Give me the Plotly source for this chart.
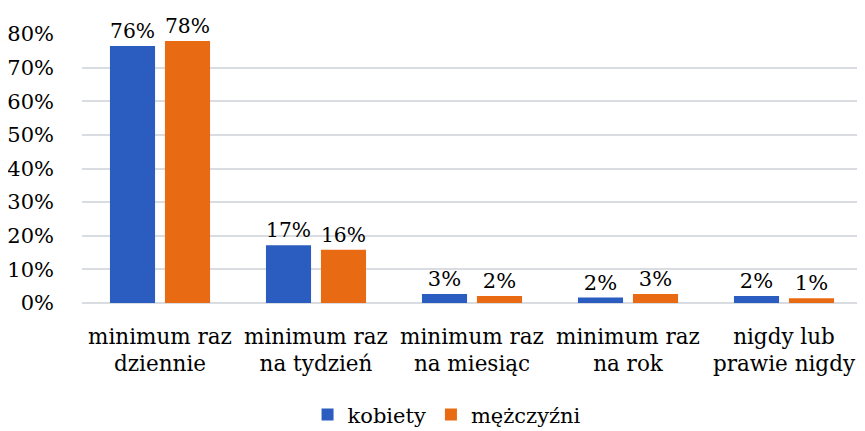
import plotly.graph_objects as go

categories = ["minimum raz<br>dziennie", "minimum raz<br>na tydzień", "minimum raz<br>na miesiąc",
              "minimum raz<br>na rok", "nigdy lub<br>prawie nigdy"]
kobiety = [76.4, 17.2, 2.7, 1.6, 2.1]
mezczyzni = [77.9, 15.8, 2.1, 2.7, 1.4]
y_ticks = [0, 10, 20, 30, 40, 50, 60, 70, 80]

FONT = "DejaVu Serif"
SIZE = 21

fig = go.Figure()
fig.add_trace(go.Bar(
    x=categories, y=kobiety, name="kobiety",
    marker=dict(color="#2A5DBF", line=dict(width=0)),
    text=[f"{round(v)}%" for v in kobiety], textposition="outside",
    textfont=dict(family=FONT, size=SIZE, color="#000"), cliponaxis=False,
))
fig.add_trace(go.Bar(
    x=categories, y=mezczyzni, name="mężczyźni",
    marker=dict(color="#E86A12", line=dict(width=0)),
    text=[f"{round(v)}%" for v in mezczyzni], textposition="outside",
    textfont=dict(family=FONT, size=SIZE, color="#000"), cliponaxis=False,
))

fig.update_layout(
    width=857, height=423,
    margin=dict(l=74, r=3, t=26, b=128, autoexpand=False),
    paper_bgcolor="white", plot_bgcolor="white",
    barmode="group", bargap=0.295, bargroupgap=0.18,
    font=dict(family=FONT, size=SIZE, color="#000"),
    showlegend=True,
    legend=dict(orientation="h", x=0.468, xanchor="center", y=-0.416, yanchor="middle",
                font=dict(family=FONT, size=SIZE), itemwidth=30, traceorder="normal"),
)
fig.update_yaxes(
    range=[0, 80], tickvals=y_ticks, ticktext=[f"{v}%" for v in y_ticks],
    showgrid=True, gridcolor="#D9DCE1", gridwidth=1.5, zeroline=True, zerolinecolor="#D9DCE1",
    zerolinewidth=1.5, ticks="", ticklabelstandoff=27, tickfont=dict(family=FONT, size=SIZE),
    automargin=False,
)
fig.update_xaxes(showline=False, ticks="", tickfont=dict(family=FONT, size=21.5), ticklabelstandoff=18,
                 automargin=False)

fig.write_html("out.html")
